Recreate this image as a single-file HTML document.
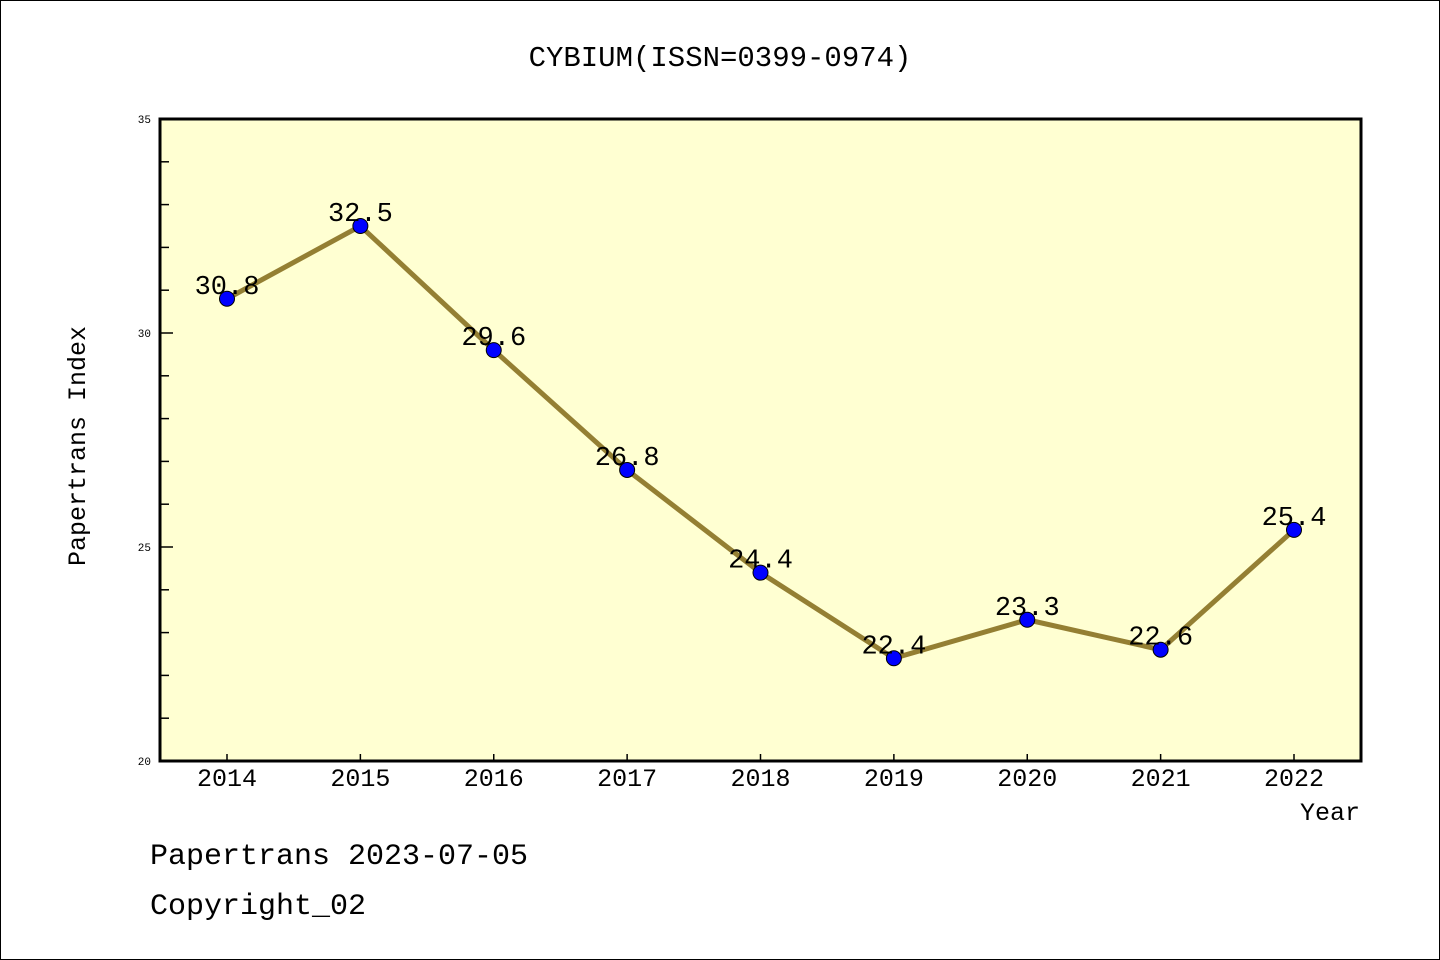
<!DOCTYPE html>
<html><head><meta charset="utf-8"><style>
body{margin:0;background:#fff}
svg{display:block}
text{font-family:"Liberation Mono","Noto Sans CJK SC",monospace}
</style></head><body>
<svg id="chart" width="1440" height="960">
<rect x="0.5" y="0.5" width="1439" height="959" fill="#fff" stroke="#000"/>
<text x="720" y="66" text-anchor="middle" font-size="29">CYBIUM(ISSN=0399-0974)</text>
<rect x="160" y="119" width="1201" height="642" fill="#ffffd2"/>
<g id="yaxis"></g><g id="xaxis"></g><g id="series"></g>
<rect x="160" y="119" width="1201" height="642" fill="none" stroke="#000" stroke-width="3"/>
<text x="85" y="446" text-anchor="middle" font-size="25" transform="rotate(-90 85 446)">Papertrans Index</text>
<text x="1360" y="820" text-anchor="end" font-size="25">Year</text>
<text x="150" y="864" font-size="30">Papertrans 2023-07-05</text>
<text x="150" y="914" font-size="30">Copyright_02</text>
</svg>
<script>
const years=["2014","2015","2016","2017","2018","2019","2020","2021","2022"];
const values=[30.8,32.5,29.6,26.8,24.4,22.4,23.3,22.6,25.4];
const labels=["30.8","32.5","29.6","26.8","24.4","22.4","23.3","22.6","25.4"];
const yTicks=[20,25,30,35];
const NS="http://www.w3.org/2000/svg";
const yMin=20,yMax=35,plotTop=119,plotBot=761;
function yPos(v){return plotBot-(v-yMin)/(yMax-yMin)*(plotBot-plotTop);}
function xPos(i){return 227+i*(1294-227)/(years.length-1);}
function mk(t,a,p){const e=document.createElementNS(NS,t);for(const k in a)e.setAttribute(k,a[k]);p.appendChild(e);return e;}
const ya=document.getElementById('yaxis'),xa=document.getElementById('xaxis'),se=document.getElementById('series');
for(let v=yMin;v<=yMax;v++){
 const major=v%5===0;
 const l=mk('line',{x1:160,x2:major?173:169,y1:yPos(v),y2:yPos(v),stroke:'#000','stroke-width':1.5},ya);
 
 
}
yTicks.forEach(v=>{
 const t=mk('text',{x:151,y:yPos(v)+4,'text-anchor':'end','font-size':11},ya);t.textContent=v;
 
 
});
years.forEach((yr,i)=>{
 const l=mk('line',{x1:xPos(i),x2:xPos(i),y1:plotBot,y2:plotBot-7,stroke:'#000','stroke-width':1.5},xa);
 
 
 const t=mk('text',{x:xPos(i),y:plotBot+25,'text-anchor':'middle','font-size':25},xa);t.textContent=yr;
 
 
});
const pl=mk('polyline',{points:values.map((v,i)=>xPos(i)+','+yPos(v)).join(' '),fill:'none',stroke:'#947f33','stroke-width':5},se);


values.forEach((v,i)=>{
 const c=mk('circle',{cx:xPos(i),cy:yPos(v),r:7.5,fill:'#0000ff',stroke:'#000','stroke-width':1},se);
 
 
 const t=mk('text',{x:xPos(i),y:yPos(v)-5,'text-anchor':'middle','font-size':27},se);t.textContent=labels[i];
 
 
});
</script>
</body></html>
